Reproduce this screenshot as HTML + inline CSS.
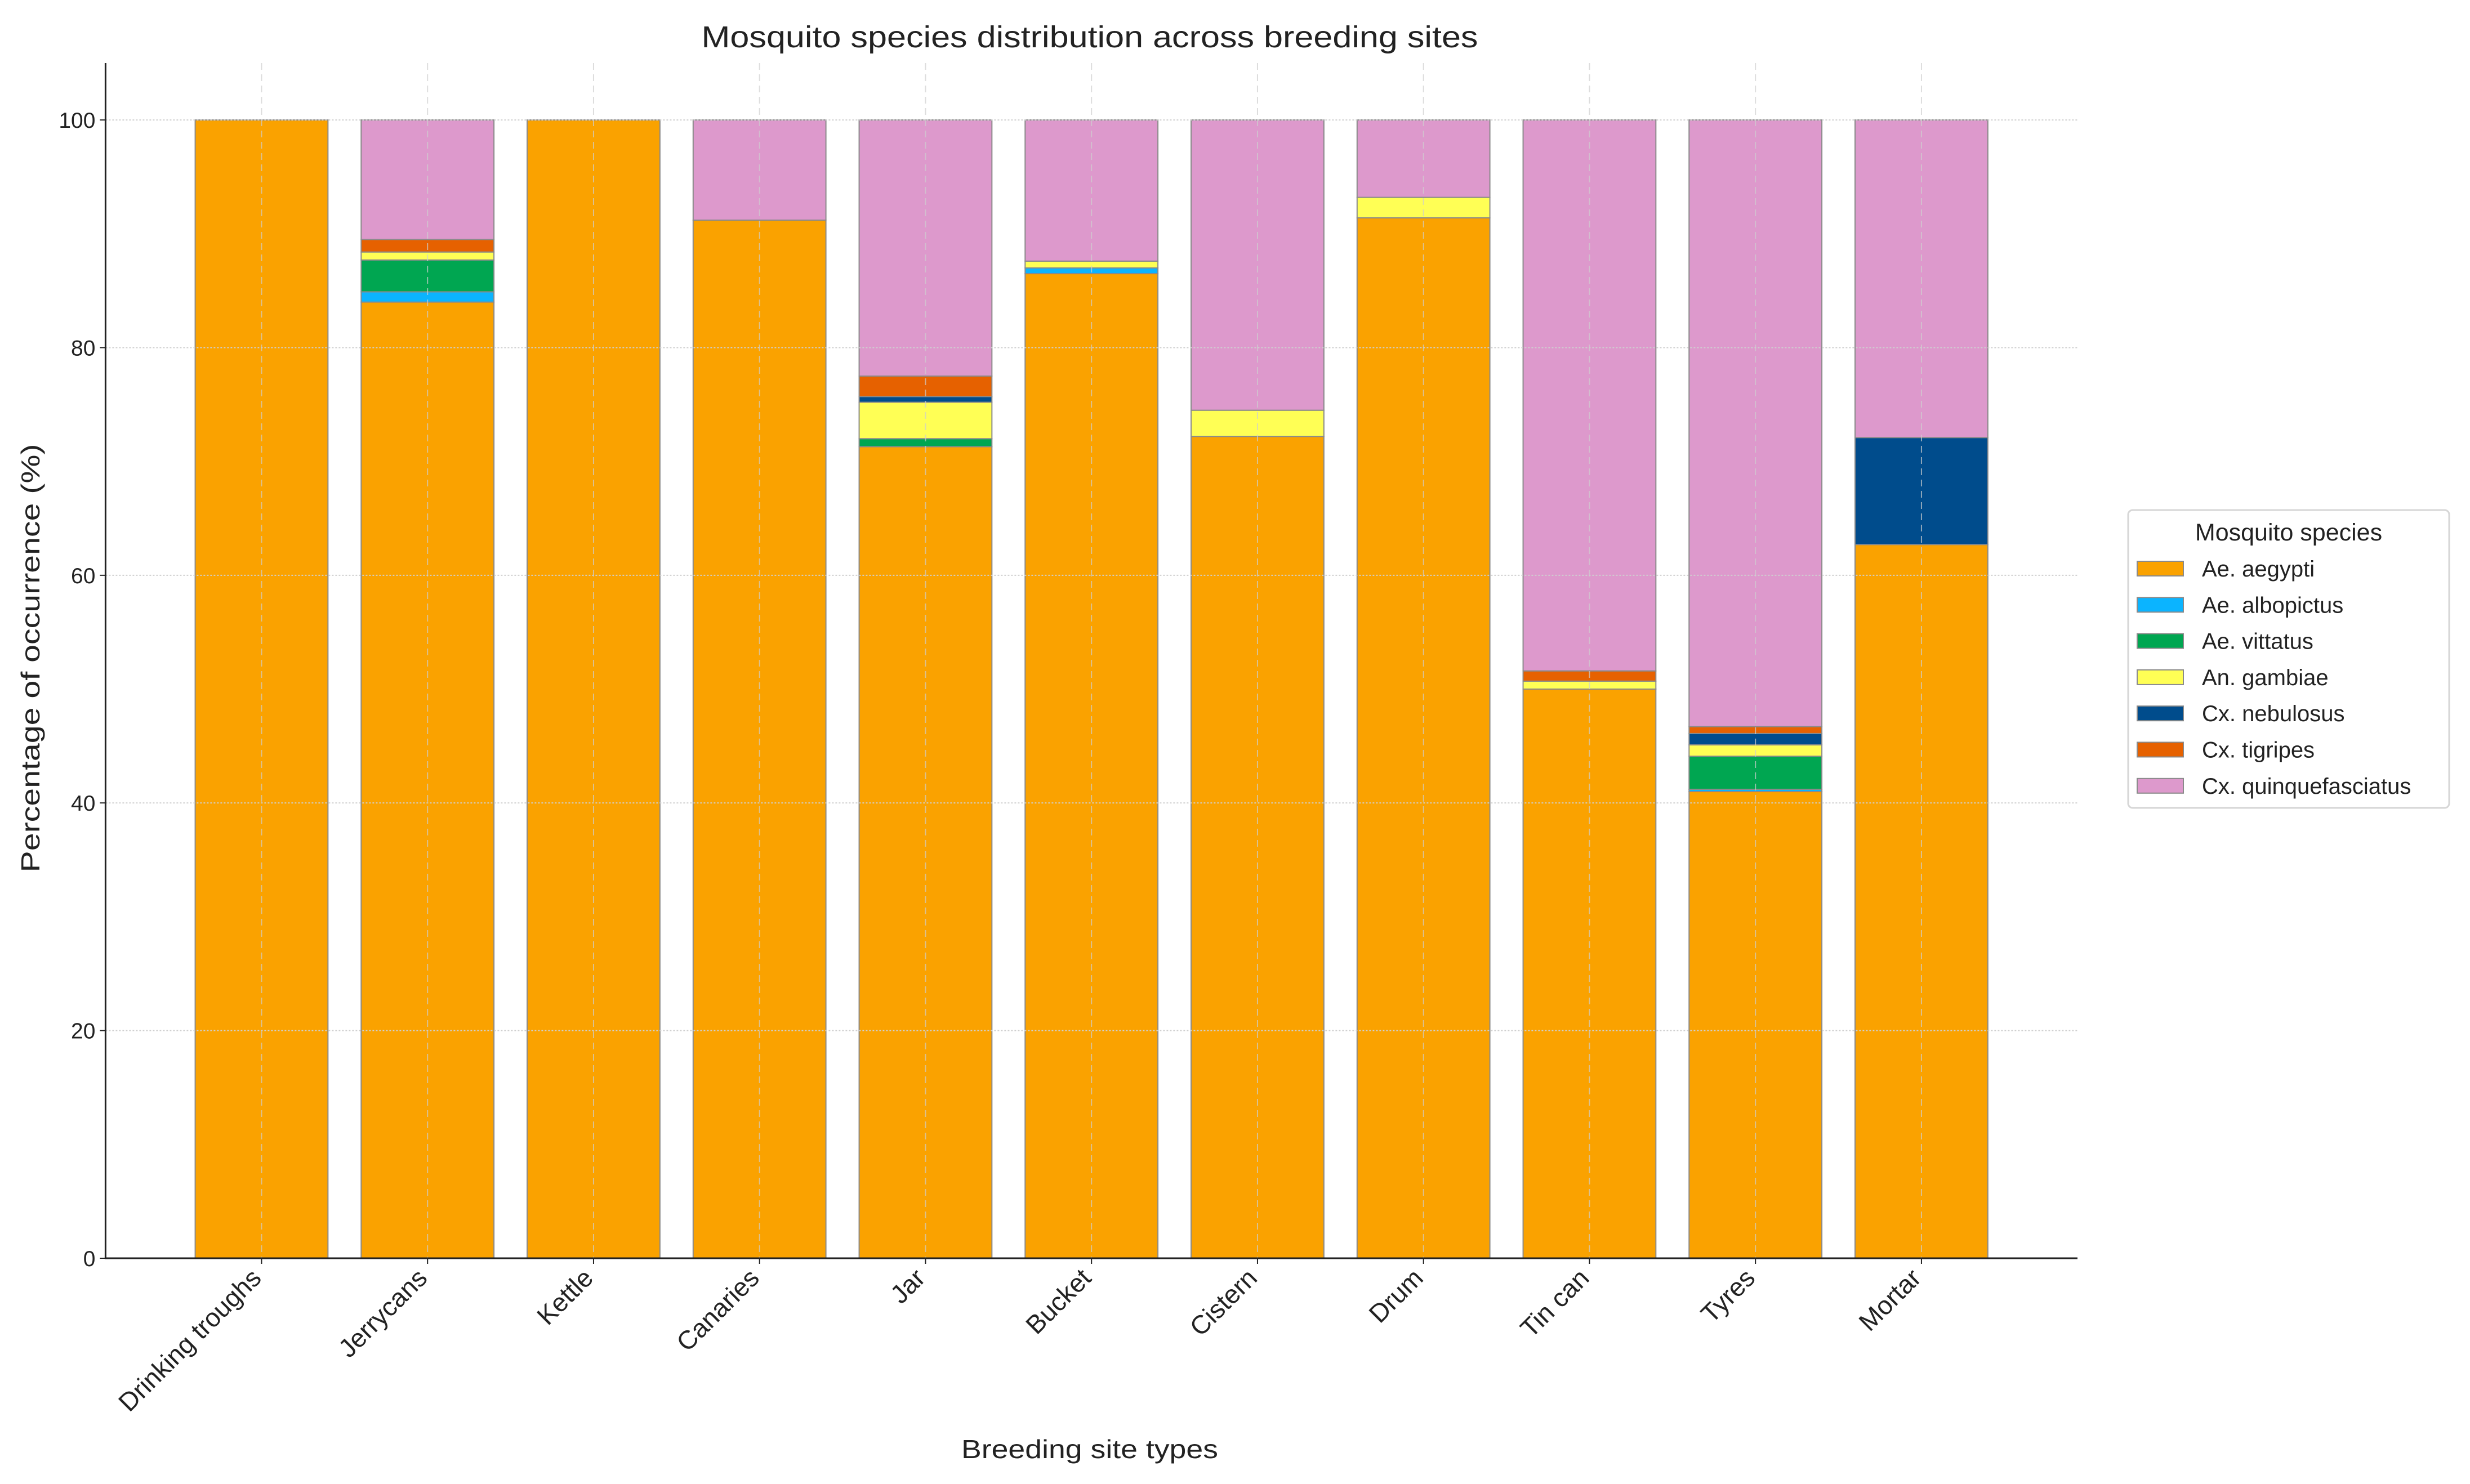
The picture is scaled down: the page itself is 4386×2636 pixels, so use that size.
<!DOCTYPE html>
<html><head><meta charset="utf-8"><style>
html,body{margin:0;padding:0;background:#fff}
svg{display:block;font-family:"Liberation Sans","DejaVu Sans",sans-serif}
</style></head><body>
<svg id="chart" width="4386" height="2636" viewBox="0 0 4386 2636" xmlns="http://www.w3.org/2000/svg">
<rect width="4386" height="2636" fill="#fff"/>
<text x="1935" y="84" font-size="54" fill="#222" text-anchor="middle" textLength="1379" lengthAdjust="spacingAndGlyphs">Mosquito species distribution across breeding sites</text>
<g id="bars"></g>
<g id="grid"></g>
<g id="axes"></g>
<text x="1935" y="2590" font-size="46" fill="#222" text-anchor="middle" textLength="456" lengthAdjust="spacingAndGlyphs">Breeding site types</text>
<text transform="translate(70,1169) rotate(-90)" font-size="46" fill="#222" text-anchor="middle" textLength="761" lengthAdjust="spacingAndGlyphs">Percentage of occurrence (%)</text>
<g id="legend"></g>
</svg>
<script>
const categories = ["Drinking troughs","Jerrycans","Kettle","Canaries","Jar","Bucket","Cistern","Drum","Tin can","Tyres","Mortar"];
const species = ["Ae. aegypti","Ae. albopictus","Ae. vittatus","An. gambiae","Cx. nebulosus","Cx. tigripes","Cx. quinquefasciatus"];
const colors = ["#FAA200","#0BB4FF","#00A651","#FFFF55","#004C8C","#E66100","#DD99CC"];
const aegypti     = [100, 84.0, 100, 91.2, 71.3, 86.5, 72.2, 91.4, 50.0, 41.0, 62.7];
const albopictus  = [0, 0.9, 0, 0, 0, 0.5, 0, 0, 0, 0.2, 0];
const vittatus    = [0, 2.8, 0, 0, 0.7, 0, 0, 0, 0, 2.9, 0];
const gambiae     = [0, 0.7, 0, 0, 3.2, 0.6, 2.3, 1.8, 0.7, 1.0, 0];
const nebulosus   = [0, 0, 0, 0, 0.5, 0, 0, 0, 0, 1.0, 9.4];
const tigripes    = [0, 1.1, 0, 0, 1.8, 0, 0, 0, 0.9, 0.6, 0];
const quinque     = [0, 10.5, 0, 8.8, 22.5, 12.4, 25.5, 6.8, 48.4, 53.3, 27.9];
const yTicks = [0, 20, 40, 60, 80, 100];

const series = [aegypti, albopictus, vittatus, gambiae, nebulosus, tigripes, quinque];
const NS = "http://www.w3.org/2000/svg";
const L = 187.4, R = 3689, T = 112, B = 2235;
const xMin = -0.94, xMax = categories.length - 1 + 0.94;
const yMax = 105;
const x = v => L + (v - xMin) / (xMax - xMin) * (R - L);
const y = v => B - v / yMax * (B - T);
const bw = 0.8 * (x(1) - x(0));
function mk(tag, attrs, parent) {
  const e = document.createElementNS(NS, tag);
  for (const k in attrs) e.setAttribute(k, attrs[k]);
  parent.appendChild(e);
  return e;
}
const barsG = document.getElementById('bars');
categories.forEach((c, i) => {
  let base = 0;
  series.forEach((s, j) => {
    const v = s[i];
    if (v > 0) {
      const r = mk('rect', {x: x(i) - bw / 2, y: y(base + v), width: bw, height: y(base) - y(base + v), fill: colors[j], stroke: '#8a8a8a', 'stroke-width': 2}, barsG);
      
      
    }
    base += v;
  });
});
const gridG = document.getElementById('grid');
yTicks.forEach(t => {
  const l = mk('line', {x1: L, x2: R, y1: y(t), y2: y(t), stroke: '#cfcfcf', 'stroke-width': 2, 'stroke-dasharray': '3 3'}, gridG);
  
  
});
categories.forEach((c, i) => {
  const l = mk('line', {x1: x(i), x2: x(i), y1: T, y2: B, stroke: '#cfcfcf', 'stroke-width': 2, 'stroke-dasharray': '12 8', opacity: 0.7}, gridG);
  
  
});
const axG = document.getElementById('axes');
const ya = mk('line', {x1: L, x2: L, y1: T, y2: B + 1.5, stroke: '#222', 'stroke-width': 3}, axG);


const xa = mk('line', {x1: L - 1.5, x2: R, y1: B, y2: B, stroke: '#222', 'stroke-width': 3}, axG);


yTicks.forEach(t => {
  mk('line', {x1: L - 10, x2: L, y1: y(t), y2: y(t), stroke: '#222', 'stroke-width': 2}, axG);
  const tx = mk('text', {x: L - 18, y: y(t) + 14, 'font-size': 39, fill: '#222', 'text-anchor': 'end'}, axG);
  tx.textContent = t;
  
  
});
categories.forEach((c, i) => {
  mk('line', {x1: x(i), x2: x(i), y1: B, y2: B + 10, stroke: '#222', 'stroke-width': 2}, axG);
  const tx = mk('text', {transform: `translate(${x(i) + 2},${B + 38}) rotate(-45)`, 'font-size': 46, fill: '#222', 'text-anchor': 'end'}, axG);
  tx.textContent = c;
  
  
});
const lg = document.getElementById('legend');
mk('rect', {x: 3779, y: 906, width: 570, height: 529, rx: 8, fill: '#fff', stroke: '#d6d6d6', 'stroke-width': 3}, lg);
const lt = mk('text', {x: 4064, y: 960, 'font-size': 43, fill: '#222', 'text-anchor': 'middle'}, lg);
lt.textContent = 'Mosquito species';


species.forEach((s, j) => {
  const cy = 1010 + j * 64.3;
  const g = mk('g', {}, lg);
  
  
  mk('rect', {x: 3795, y: cy - 13, width: 82, height: 26, fill: colors[j], stroke: '#8a8a8a', 'stroke-width': 2}, g);
  const t = mk('text', {x: 3910, y: cy + 14, 'font-size': 40, fill: '#222'}, g);
  t.textContent = s;
});
</script>
</body></html>
